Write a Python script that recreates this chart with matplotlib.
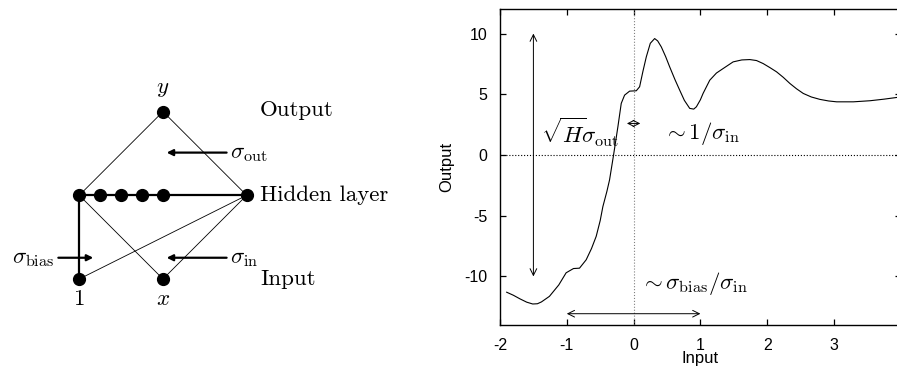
import matplotlib
matplotlib.use("Agg")
import matplotlib.pyplot as plt
import numpy as np

plt.rcParams['mathtext.fontset'] = 'cm'
plt.rcParams['font.family'] = ['Liberation Sans', 'DejaVu Sans']

# network output curve
inp = [-1.90, -1.80, -1.70, -1.60, -1.51, -1.44, -1.38, -1.26, -1.12, -1.01, -0.90, -0.81,
       -0.71, -0.63, -0.56, -0.50, -0.46, -0.40, -0.36, -0.30, -0.235, -0.185, -0.135,
       -0.06, 0.04, 0.09, 0.14, 0.19, 0.25, 0.315, 0.36, 0.415, 0.48, 0.54, 0.62, 0.69,
       0.76, 0.84, 0.90, 0.94, 1.00, 1.04, 1.14, 1.24, 1.34, 1.49, 1.62, 1.74, 1.84,
       1.94, 2.04, 2.14, 2.24, 2.34, 2.44, 2.54, 2.66, 2.79, 2.92, 3.04, 3.29, 3.54,
       3.75, 3.94]
out = [-11.3, -11.55, -11.85, -12.12, -12.27, -12.25, -12.1, -11.64, -10.7, -9.7, -9.35,
       -9.32, -8.63, -7.7, -6.7, -5.4, -4.25, -3.0, -2.05, 0.0, 2.33, 4.25, 4.93,
       5.26, 5.29, 5.62, 6.9, 8.08, 9.2, 9.59, 9.4, 8.9, 8.1, 7.26, 6.2, 5.34,
       4.5, 3.84, 3.78, 3.97, 4.55, 5.07, 6.16, 6.75, 7.12, 7.67, 7.83, 7.86, 7.78,
       7.53, 7.2, 6.85, 6.4, 5.89, 5.45, 5.07, 4.78, 4.58, 4.45, 4.38, 4.38, 4.47,
       4.6, 4.74]

# diagram layout (layer spacing = 1 unit)
hidden_x = [0, 0.25, 0.5, 0.75, 1.0, 2.0]
input_x = [0, 1.0]
output_x = [1.0]
lay_in, lay_hid, lay_out = 0, 1, 2

fig = plt.figure(figsize=(8.97, 3.70), dpi=100)

# ---------------- left: network diagram ----------------
ad = fig.add_axes([0, 0, 0.5, 1])
ad.set_xlim(-0.947, 4.411)
ad.set_ylim(-1.087, 3.333)
ad.axis('off')

thin = dict(color='black', lw=0.6)
thick = dict(color='black', lw=1.6)
hl, hr = hidden_x[0], hidden_x[-1]
ad.plot([output_x[0], hl], [lay_out, lay_hid], **thin)
ad.plot([output_x[0], hr], [lay_out, lay_hid], **thin)
ad.plot([hl, input_x[1]], [lay_hid, lay_in], **thin)
ad.plot([hr, input_x[0]], [lay_hid, lay_in], **thin)
ad.plot([hr, input_x[1]], [lay_hid, lay_in], **thin)
ad.plot([hl, hr], [lay_hid, lay_hid], **thick)
ad.plot([hl, input_x[0]], [lay_hid, lay_in], **thick)

dot = dict(color='black', marker='o', ls='none', ms=8.5)
ad.plot(hidden_x, [lay_hid] * len(hidden_x), **dot)
ad.plot(input_x, [lay_in] * len(input_x), **dot)
ad.plot(output_x, [lay_out], **dot)

fs = 16.5
ad.text(1.0, 2.29, r'$y$', fontsize=fs, ha='center', va='center')
ad.text(0.0, -0.23, r'$1$', fontsize=fs, ha='center', va='center')
ad.text(1.0, -0.23, r'$x$', fontsize=fs, ha='center', va='center')
ad.text(2.16, 2.02, 'Output', fontsize=fs, family='cmr10', ha='left', va='center')
ad.text(2.16, 1.0, 'Hidden layer', fontsize=fs, family='cmr10', ha='left', va='center')
ad.text(2.16, 0.0, 'Input', fontsize=fs, family='cmr10', ha='left', va='center')

arr = dict(arrowstyle='-|>', color='black', lw=1.6, mutation_scale=9, shrinkA=0, shrinkB=0)
ad.annotate('', xy=(1.044, 1.51), xytext=(1.76, 1.51), arrowprops=arr)
ad.annotate('', xy=(1.044, 0.254), xytext=(1.76, 0.254), arrowprops=arr)
ad.annotate('', xy=(0.167, 0.254), xytext=(-0.25, 0.254), arrowprops=arr)
ad.text(1.8, 1.51, r'$\sigma_{\rm out}$', fontsize=fs, ha='left', va='center')
ad.text(1.8, 0.254, r'$\sigma_{\rm in}$', fontsize=fs, ha='left', va='center')
ad.text(-0.30, 0.254, r'$\sigma_{\rm bias}$', fontsize=fs, ha='right', va='center')

# ---------------- right: sample function ----------------
ax = fig.add_axes([500 / 897, 45 / 370, 400.8 / 897, 315.7 / 370])
ax.plot(inp, out, color='black', lw=0.8)
ax.axhline(0, color='black', ls=':', lw=0.8)
ax.axvline(0, color='gray', ls=':', lw=0.8)
ax.set_xlim(-2, 4)
ax.set_ylim(-14, 12)
ax.set_xticks([-2, -1, 0, 1, 2, 3])
ax.set_xticklabels(['-2', '-1', '0', '1', '2', '3'])
ax.set_yticks([-10, -5, 0, 5, 10])
ax.set_yticklabels(['-10', '-5', '0', '5', '10'])
ax.tick_params(direction='in', length=4, width=0.9, top=True, right=True,
               labelsize=11.5, pad=9)
for s in ax.spines.values():
    s.set_linewidth(1.0)
ax.set_xlabel('Input', fontsize=12, labelpad=-1)
ax.set_ylabel('Output', fontsize=12)
ax.yaxis.set_label_coords(-0.115, 0.5)

darr = dict(arrowstyle='<->', color='black', lw=0.7, mutation_scale=12,
            shrinkA=0, shrinkB=0)
ax.annotate('', xy=(-1.5, 10), xytext=(-1.5, -10), arrowprops=darr)
ax.annotate('', xy=(-1, -13.07), xytext=(1, -13.07), arrowprops=darr)
ax.annotate('', xy=(-0.1, 2.6), xytext=(0.1, 2.6),
            arrowprops=dict(arrowstyle='<->', color='black', lw=0.7,
                            mutation_scale=11, shrinkA=0, shrinkB=0))
ax.text(-1.385, 1.9, r'$\sqrt{H}\!\sigma_{\rm out}$', fontsize=fs, ha='left', va='center')
ax.text(0.44, 1.8, r'$\sim 1/\sigma_{\rm in}$', fontsize=fs, ha='left', va='center')
ax.text(0.09, -10.55, r'$\sim \sigma_{\rm bias}/\sigma_{\rm in}$', fontsize=fs,
        ha='left', va='center')

fig.savefig('out.png', dpi=100)
